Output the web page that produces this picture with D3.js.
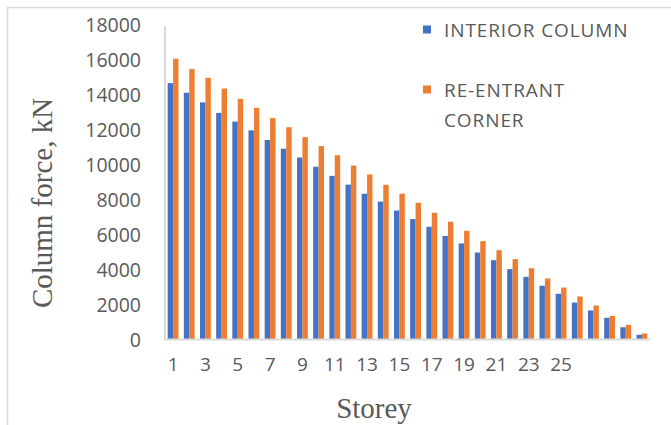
<!DOCTYPE html>
<html><head><meta charset="utf-8">
<script src="https://cdn.jsdelivr.net/npm/d3@7"></script>
<style>html,body{margin:0;padding:0;background:#fff;}svg{display:block;}</style>
</head><body>
<script>
const storeys = d3.range(1, 31).map(String);
const interiorColumn = [14650, 14100, 13550, 12950, 12450, 11950, 11400, 10900, 10400, 9870, 9350, 8850, 8330, 7880, 7370, 6880, 6440, 5920, 5490, 4970, 4530, 4020, 3580, 3070, 2610, 2110, 1660, 1240, 700, 270];
const reEntrantCorner = [16040, 15450, 14950, 14340, 13750, 13240, 12650, 12130, 11560, 11050, 10530, 9940, 9430, 8840, 8330, 7810, 7240, 6730, 6210, 5620, 5100, 4590, 4070, 3490, 2970, 2460, 1940, 1350, 840, 340];
const xTickLabels = ["1","3","5","7","9","11","13","15","17","19","21","23","25"];
const yTicks = [0, 2000, 4000, 6000, 8000, 10000, 12000, 14000, 16000, 18000];
const seriesNames = ["INTERIOR COLUMN", "RE-ENTRANT CORNER"];
const colors = ["#4472C4", "#ED7D31"];

const W = 671, H = 425;
const svg = d3.select("body").append("svg").attr("width", W).attr("height", H);

svg.append("rect").attr("x", 7.5).attr("y", 7.5).attr("width", 700).attr("height", 450)
  .attr("fill", "#fff").attr("stroke", "#d9d9d9").attr("stroke-width", 1.5);

const x0 = d3.scaleBand().domain(storeys).range([165, 650]).paddingInner(0.33).paddingOuter(0.165);
const x1 = d3.scaleBand().domain([0, 1]).range([0, x0.bandwidth()]);
const y = d3.scaleLinear().domain([0, 18000]).range([339.5, 24.5]);

const seriesData = [interiorColumn, reEntrantCorner];
seriesData.forEach((vals, si) => {
  svg.append("g").selectAll("rect").data(vals).join("rect")
    .attr("x", (d, i) => x0(storeys[i]) + x1(si))
    .attr("width", x1.bandwidth())
    .attr("y", d => y(d))
    .attr("height", d => y(0) - y(d))
    .attr("fill", colors[si]);
});

// axis lines
svg.append("line").attr("x1", 165).attr("x2", 165).attr("y1", 26).attr("y2", 340)
  .attr("stroke", "#d9d9d9").attr("stroke-width", 2);
svg.append("line").attr("x1", 164).attr("x2", 650).attr("y1", 339.5).attr("y2", 339.5)
  .attr("stroke", "#d9d9d9").attr("stroke-width", 2);

// y tick labels
const yAxis = d3.axisLeft(y).tickValues(yTicks).tickSize(0).tickPadding(0).tickFormat(d3.format("d"));
const gy = svg.append("g").attr("transform", "translate(141,0)").call(yAxis);
gy.select(".domain").remove();
gy.selectAll("text").attr("font-family", "'Open Sans', sans-serif").attr("font-size", 19.5)
  .attr("fill", "#595959").attr("dy", "0.36em");

// x tick labels
const xAxis = d3.axisBottom(x0).tickValues(xTickLabels).tickSize(0).tickPadding(0);
const gx = svg.append("g").attr("transform", "translate(0,357)").call(xAxis);
gx.select(".domain").remove();
gx.selectAll("text").attr("font-family", "'Open Sans', sans-serif").attr("font-size", 19)
  .attr("fill", "#595959").attr("dy", "0.71em");

// axis titles
svg.append("text").attr("transform", "translate(52,203) rotate(-90)")
  .attr("text-anchor", "middle").attr("font-family", "'Liberation Serif', serif")
  .attr("font-size", 29).attr("fill", "#595959").text("Column force, kN");
svg.append("text").attr("x", 374).attr("y", 418)
  .attr("text-anchor", "middle").attr("font-family", "'Liberation Serif', serif")
  .attr("font-size", 29).attr("fill", "#595959").text("Storey");

// legend
const legend = [
  {name: seriesNames[0], color: colors[0], y: 30, lines: ["INTERIOR COLUMN"]},
  {name: seriesNames[1], color: colors[1], y: 90, lines: ["RE-ENTRANT", "CORNER"]}
];
legend.forEach(l => {
  svg.append("rect").attr("x", 423).attr("y", l.y - 4.5).attr("width", 8).attr("height", 8).attr("fill", l.color);
  const t = svg.append("text").attr("x", 444).attr("y", l.y)
    .attr("font-family", "'Open Sans', sans-serif").attr("font-size", 19)
    .attr("letter-spacing", 0.9).attr("fill", "#595959");
  l.lines.forEach((ln, k) => {
    t.append("tspan").attr("x", 444).attr("dy", k === 0 ? "0.36em" : 30).text(ln);
  });
});
</script>
</body></html>
